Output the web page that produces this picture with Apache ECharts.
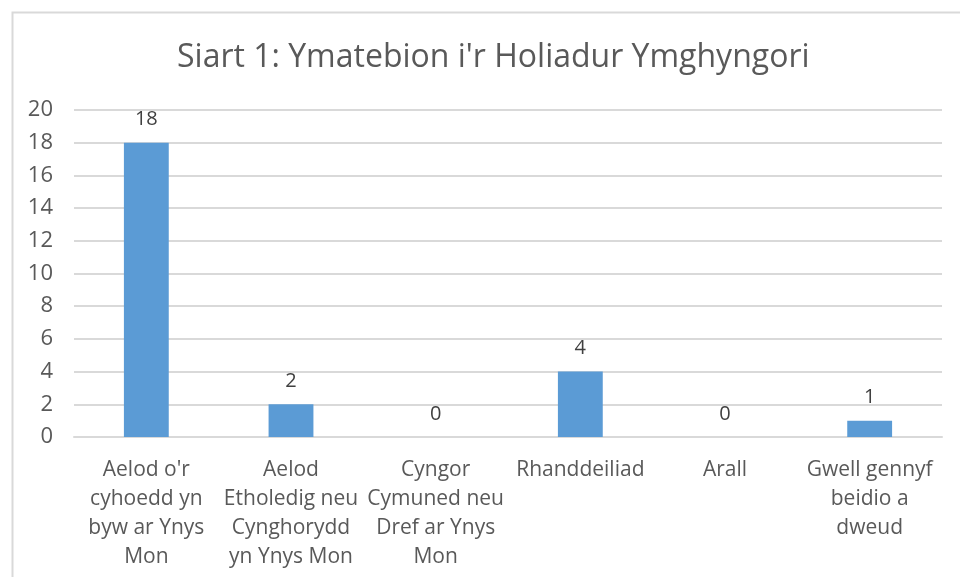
<!DOCTYPE html>
<html>
<head>
<meta charset="utf-8">
<script src="https://cdn.jsdelivr.net/npm/echarts@6/dist/echarts.min.js"></script>
<style>html,body{margin:0;padding:0;background:#fff}#c{width:960px;height:577px}</style>
</head>
<body>
<div id="c"></div>
<script>
const titleText = "Siart 1: Ymatebion i'r Holiadur Ymghyngori";
const categories = [
  "Aelod o'r\ncyhoedd yn\nbyw ar Ynys\nMon",
  "Aelod\nEtholedig neu\nCynghorydd\nyn Ynys Mon",
  "Cyngor\nCymuned neu\nDref ar Ynys\nMon",
  "Rhanddeiliad",
  "Arall",
  "Gwell gennyf\nbeidio a\ndweud"
];
const values = [18, 2, 0, 4, 0, 1];
const yMin = 0, yMax = 20, yStep = 2;

const font = "Open Sans, Noto Sans, sans-serif";
const chart = echarts.init(document.getElementById('c'));
chart.setOption({
  animation: false,
  backgroundColor: '#ffffff',
  graphic: [{
    type: 'rect', left: 10, top: 10,
    shape: { width: 980, height: 600 },
    style: { fill: 'none', stroke: '#d9d9d9', lineWidth: 2 }
  }],
  title: {
    text: titleText, left: 172, top: 37,
    textStyle: { fontFamily: font, fontSize: 32, fontWeight: 'normal', color: '#595959' }
  },
  grid: { left: 74, right: 18, top: 110, bottom: 140, containLabel: false },
  xAxis: {
    type: 'category', data: categories,
    axisLine: { lineStyle: { color: '#d9d9d9', width: 2 } },
    axisTick: { show: false },
    axisLabel: { interval: 0, color: '#595959', fontFamily: font, fontSize: 21, lineHeight: 29, margin: 19 }
  },
  yAxis: {
    type: 'value', min: yMin, max: yMax, interval: yStep,
    axisLine: { show: false }, axisTick: { show: false },
    splitLine: { lineStyle: { color: '#d9d9d9', width: 2 } },
    axisLabel: { color: '#595959', fontFamily: font, fontSize: 22, margin: 21 }
  },
  series: [{
    type: 'bar', data: values, barWidth: '31%',
    itemStyle: { color: '#5b9bd5' },
    label: { show: true, position: 'top', distance: 13, color: '#404040', fontFamily: font, fontSize: 20 }
  }]
});
</script>
</body>
</html>
